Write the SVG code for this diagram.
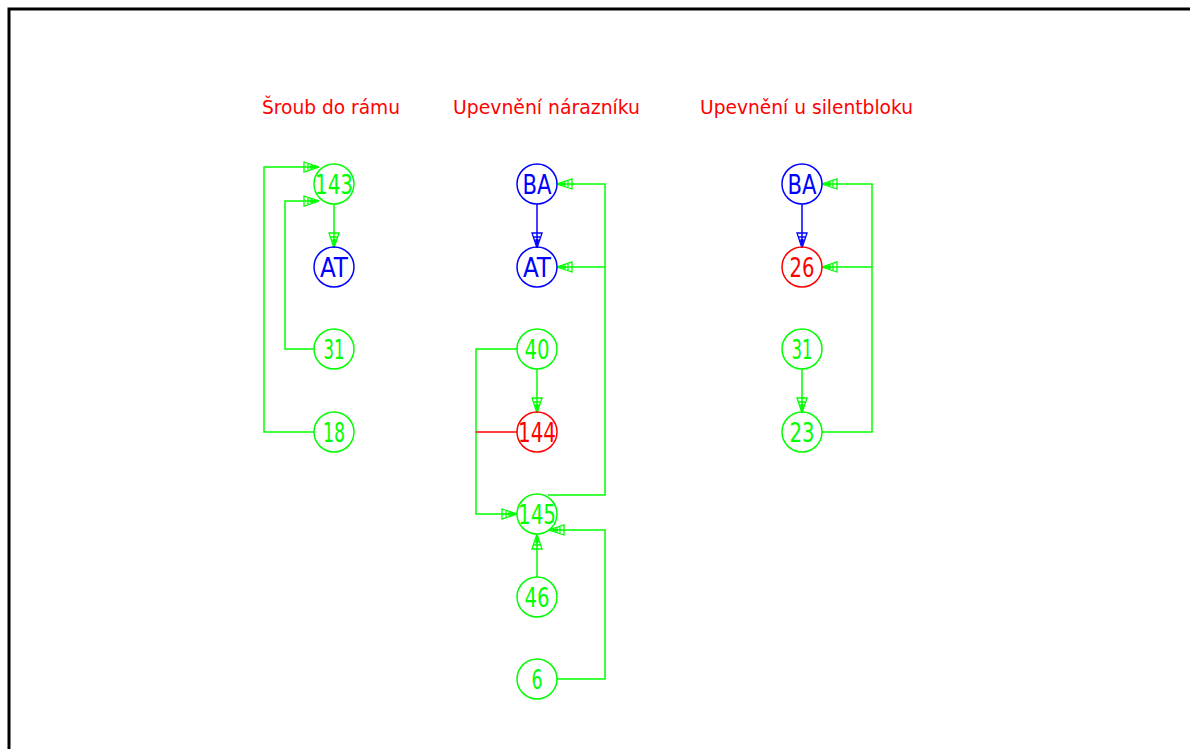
<svg xmlns="http://www.w3.org/2000/svg" width="1190" height="749" viewBox="0 0 1190 749">
<style>
.g{stroke:#00ff00}.b{stroke:#0000ff}.r{stroke:#ff0000}
circle{fill:none;stroke-width:1.5}
.c path,.c line,.c polyline{fill:none;stroke-width:1.5}
text{font-family:"DejaVu Sans Condensed","Liberation Sans",sans-serif;font-weight:normal}
.nl{font-size:26px;text-anchor:middle}
.gt{fill:#00ff00}.bt{fill:#0000ff}.rt{fill:#ff0000}
.title{font-size:19px;fill:#ff0000}
</style>
<defs>
<marker id="ag" markerUnits="userSpaceOnUse" viewBox="0 0 16 12" refX="16" refY="6" markerWidth="16" markerHeight="12" orient="auto">
<path d="M1,1 L16,6 L1,11 Z M5,3 V9 M9,4 V8" fill="none" stroke="#00ff00" stroke-width="1.3"/>
<path d="M7,4.3 L16,6 L7,7.7 Z" fill="#00ff00"/>
</marker>
<marker id="ab" markerUnits="userSpaceOnUse" viewBox="0 0 16 12" refX="16" refY="6" markerWidth="16" markerHeight="12" orient="auto">
<path d="M1,1 L16,6 L1,11 Z M5,3 V9 M9,4 V8" fill="none" stroke="#0000ff" stroke-width="1.3"/>
<path d="M7,4.3 L16,6 L7,7.7 Z" fill="#0000ff"/>
</marker>
</defs>
<rect width="1190" height="749" fill="#fff"/>
<path d="M9,749 V9 H1190" fill="none" stroke="#000" stroke-width="3"/>
<text class="title" x="262" y="114" textLength="138" lengthAdjust="spacingAndGlyphs">Šroub do rámu</text>
<text class="title" x="453" y="114" textLength="187" lengthAdjust="spacingAndGlyphs">Upevnění nárazníku</text>
<text class="title" x="700" y="114" textLength="213" lengthAdjust="spacingAndGlyphs">Upevnění u silentbloku</text>
<g id="connectors" class="c">
<line class="g" x1="334" y1="204" x2="334" y2="248" marker-end="url(#ag)"/>
<polyline class="g" points="314,432 264,432 264,167 319,167" marker-end="url(#ag)"/>
<polyline class="g" points="314,349 285,349 285,201 319,201" marker-end="url(#ag)"/>
<line class="b" x1="537" y1="204" x2="537" y2="248" marker-end="url(#ab)"/>
<polyline class="g" points="548,495 605,495 605,184 557,184" marker-end="url(#ag)"/>
<line class="g" x1="605" y1="267" x2="557" y2="267" marker-end="url(#ag)"/>
<polyline class="g" points="517,349 476,349 476,514 517,514" marker-end="url(#ag)"/>
<line class="r" x1="476" y1="432" x2="517" y2="432"/>
<line class="g" x1="537" y1="369" x2="537" y2="413" marker-end="url(#ag)"/>
<line class="g" x1="537" y1="577" x2="537" y2="534" marker-end="url(#ag)"/>
<polyline class="g" points="557,679 605,679 605,530 549,530" marker-end="url(#ag)"/>
<line class="b" x1="802" y1="204" x2="802" y2="248" marker-end="url(#ab)"/>
<polyline class="g" points="822,432 872,432 872,184 822,184" marker-end="url(#ag)"/>
<line class="g" x1="872" y1="267" x2="822" y2="267" marker-end="url(#ag)"/>
<line class="g" x1="802" y1="369" x2="802" y2="413" marker-end="url(#ag)"/>
</g>
<g id="n143a"><circle class="g" cx="334" cy="184" r="20"/><text class="nl gt" x="334" y="194" textLength="38" lengthAdjust="spacingAndGlyphs">143</text></g>
<g id="nATa"><circle class="b" cx="334" cy="267" r="20"/><text class="nl bt" x="334" y="277" textLength="28" lengthAdjust="spacingAndGlyphs">AT</text></g>
<g id="n31a"><circle class="g" cx="334" cy="349" r="20"/><text class="nl gt" x="334" y="359" textLength="21" lengthAdjust="spacingAndGlyphs">31</text></g>
<g id="n18"><circle class="g" cx="334" cy="432" r="20"/><text class="nl gt" x="334" y="442" textLength="22" lengthAdjust="spacingAndGlyphs">18</text></g>
<g id="nBAb"><circle class="b" cx="537" cy="184" r="20"/><text class="nl bt" x="537" y="194" textLength="29" lengthAdjust="spacingAndGlyphs">BA</text></g>
<g id="nATb"><circle class="b" cx="537" cy="267" r="20"/><text class="nl bt" x="537" y="277" textLength="28" lengthAdjust="spacingAndGlyphs">AT</text></g>
<g id="n40"><circle class="g" cx="537" cy="349" r="20"/><text class="nl gt" x="537" y="359" textLength="25" lengthAdjust="spacingAndGlyphs">40</text></g>
<g id="n144"><circle class="r" cx="537" cy="432" r="20"/><text class="nl rt" x="537" y="442" textLength="38" lengthAdjust="spacingAndGlyphs">144</text></g>
<g id="n145"><circle class="g" cx="537" cy="514" r="20"/><text class="nl gt" x="537" y="524" textLength="38" lengthAdjust="spacingAndGlyphs">145</text></g>
<g id="n46"><circle class="g" cx="537" cy="597" r="20"/><text class="nl gt" x="537" y="607" textLength="25" lengthAdjust="spacingAndGlyphs">46</text></g>
<g id="n6"><circle class="g" cx="537" cy="679" r="20"/><text class="nl gt" x="537" y="689" textLength="11" lengthAdjust="spacingAndGlyphs">6</text></g>
<g id="nBAc"><circle class="b" cx="802" cy="184" r="20"/><text class="nl bt" x="802" y="194" textLength="29" lengthAdjust="spacingAndGlyphs">BA</text></g>
<g id="n26"><circle class="r" cx="802" cy="267" r="20"/><text class="nl rt" x="802" y="277" textLength="25" lengthAdjust="spacingAndGlyphs">26</text></g>
<g id="n31c"><circle class="g" cx="802" cy="349" r="20"/><text class="nl gt" x="802" y="359" textLength="21" lengthAdjust="spacingAndGlyphs">31</text></g>
<g id="n23"><circle class="g" cx="802" cy="432" r="20"/><text class="nl gt" x="802" y="442" textLength="25" lengthAdjust="spacingAndGlyphs">23</text></g>
</svg>
